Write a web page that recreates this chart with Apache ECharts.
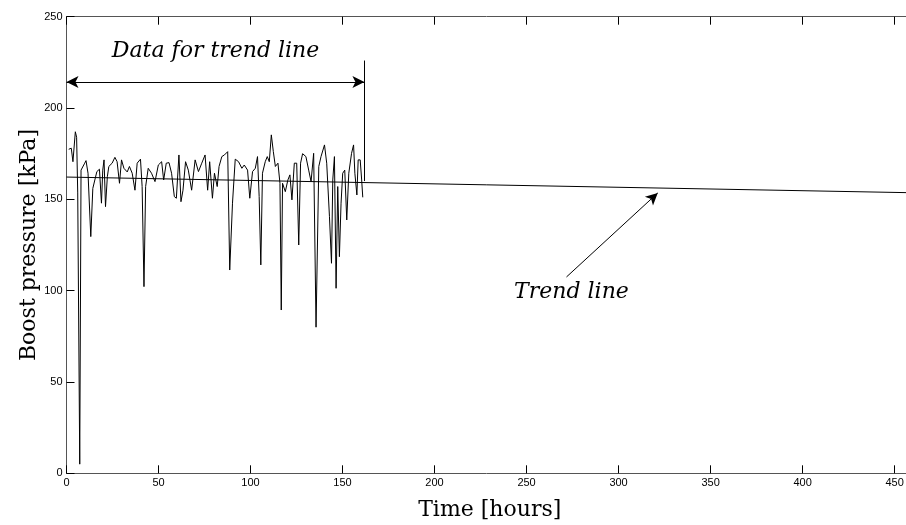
<!DOCTYPE html>
<html>
<head>
<meta charset="utf-8">
<script src="https://cdn.jsdelivr.net/npm/echarts@6/dist/echarts.min.js"></script>
<style>
  html, body { margin: 0; padding: 0; background: #fff; }
  #chart { width: 906px; height: 525px; }
</style>
</head>
<body>
<div id="chart"></div>
<script>
// measured boost pressure
const hours = [
  1.2, 2.6, 3.5, 4.8, 5.5, 6.1, 7.2, 7.9, 8.5, 9.9, 10.6, 11.7, 13.2, 14.3, 15.4, 16.5, 17.9,
  19.0, 19.7, 20.4, 21.2, 22.2, 23.0, 24.8, 26.3, 27.5, 28.8, 29.9, 31.2, 33.0, 34.2, 35.7,
  37.2, 38.4, 40.2, 41.1, 42.1, 43.0, 44.4, 46.2, 48.1, 49.9, 51.7, 52.8, 54.2, 55.7, 57.1,
  58.6, 59.7, 61.1, 62.2, 63.3, 64.7, 66.2, 68.0, 69.9, 71.7, 73.5, 75.3, 76.7, 77.8, 79.3,
  80.4, 81.9, 82.9, 84.4, 85.8, 87.6, 88.7, 90.2, 91.7, 93.5, 95.3, 96.6, 97.6, 98.4, 99.6,
  101.1, 102.6, 103.8, 104.7, 105.6, 106.5, 108.0, 109.1, 110.2, 111.3, 112.4, 113.5, 114.9,
  116.0, 116.7, 117.4, 118.9, 120.3, 121.4, 122.5, 123.8, 125.1, 126.2, 127.2, 128.3, 130.1,
  131.6, 132.9, 134.3, 135.6, 137.1, 138.3, 140.2, 141.4, 142.9, 144.0, 144.7, 145.6, 146.5,
  147.4, 148.3, 149.2, 150.1, 151.2, 152.3, 153.4, 154.9, 156.0, 156.7, 157.8, 158.5, 159.6,
  160.4, 161.0
];
const pressure = [
  177.4, 178, 170.6, 187, 184, 153.5, 5, 166, 167, 169.8, 171.2, 164.3, 129.6, 156, 160.6, 165.2, 166.5,
  147.9, 166, 171.6, 146, 162.4, 168, 169.8, 173, 170.6, 158.8, 171.6, 167, 165, 168, 164.3,
  155, 169.8, 172, 157, 102.2, 157, 167, 164.3, 159.7, 168.8, 170.6, 160.6, 169.8, 170.1, 164.3,
  151.5, 150.6, 174.3, 148.7, 155, 170.6, 166, 155, 171.6, 165.2, 169.8, 174.3, 155, 170.6, 150.6,
  164.3, 157, 168, 173.4, 174.3, 176.1, 111.3, 147.9, 172, 170.6, 167, 168.8, 168, 166, 150.6,
  165.2, 167, 173.4, 151.5, 114.1, 164.3, 170.6, 173.4, 170.6, 185.3, 176.1, 168, 169.8,
  158.8, 89.4, 158.8, 154.2, 160.6, 163.4, 149.7, 169.8, 169.8, 125, 169.8, 175, 173.4,
  166, 159.7, 175.2, 80, 168, 173.4, 179.8, 169.8, 140.5, 115, 160.6, 173.4, 101.3,
  157, 118.6, 147.9, 164.3, 166, 138.7, 164.3, 175.2, 179.8, 164.3, 152.4, 171.6, 171.6,
  160.6, 151.1
];

// fitted trend line end points
const trendHours = [0, 460];
const trendPressure = [162.2, 153.6];

// annotation geometry in data units
const trendWindowEnd = 161.9;
const spanArrowLevel = 214.3;
const windowMarkTop = 226;
const windowMarkBottom = 160;
const pointerFrom = [271.7, 107.5];
const pointerTo = [321.3, 153.5];
const windowLabel = { text: "Data for trend line", at: [81, 231] };
const trendLabel = { text: "Trend line", at: [274.4, 99.3] };

const xTicks = { min: 0, max: 460, interval: 50 };
const yTicks = { min: 0, max: 250, interval: 50 };

const ink = "#000";
const axisGray = "#555";
const tickFont = { color: "#000", fontSize: 11, fontFamily: "Liberation Sans" };
const serif = "DejaVu Serif";

const chart = echarts.init(document.getElementById("chart"), null, { renderer: "canvas" });

const measured = hours.map((h, i) => [h, pressure[i]]);
const trend = trendHours.map((h, i) => [h, trendPressure[i]]);

chart.setOption({
  animation: false,
  grid: { left: 66.5, right: -7, top: 16.7, bottom: 51.7, outerBoundsMode: "none", containLabel: false },
  xAxis: [
    {
      type: "value", min: xTicks.min, max: xTicks.max, interval: xTicks.interval,
      name: "Time [hours]", nameLocation: "middle", nameGap: 26, nameMoveOverlap: false,
      nameTextStyle: { fontFamily: serif, fontSize: 22, color: ink },
      axisLine: { lineStyle: { color: axisGray, width: 1 } },
      axisTick: { inside: true, length: 8, lineStyle: { color: ink } },
      axisLabel: Object.assign({ margin: 4, showMaxLabel: false }, tickFont),
      splitLine: { show: false },
    },
    {
      type: "value", position: "top", min: xTicks.min, max: xTicks.max, interval: xTicks.interval,
      axisLine: { show: true, lineStyle: { color: axisGray, width: 1 } },
      axisTick: { inside: true, length: 8, lineStyle: { color: ink } },
      axisLabel: { show: false },
      splitLine: { show: false },
    },
  ],
  yAxis: {
    type: "value", min: yTicks.min, max: yTicks.max, interval: yTicks.interval,
    name: "Boost pressure [kPa]", nameLocation: "middle", nameGap: 26, nameRotate: 90,
    nameMoveOverlap: false,
    nameTextStyle: { fontFamily: serif, fontSize: 22, color: ink },
    axisLine: { show: true, lineStyle: { color: axisGray, width: 1 } },
    axisTick: { show: true, inside: true, length: 8, lineStyle: { color: ink } },
    axisLabel: Object.assign({ margin: 4 }, tickFont),
    splitLine: { show: false },
  },
  series: [
    {
      name: "measured",
      type: "line",
      data: measured,
      showSymbol: false,
      lineStyle: { color: ink, width: 1 },
      z: 3,
    },
    {
      name: "trend",
      type: "line",
      data: trend,
      showSymbol: false,
      lineStyle: { color: ink, width: 1 },
      z: 4,
      markLine: {
        silent: true,
        symbolSize: [9, 12],
        lineStyle: { color: ink, width: 1, type: "solid" },
        label: { show: false },
        data: [
          [
            { coord: [0, spanArrowLevel], symbol: "arrow" },
            { coord: [trendWindowEnd, spanArrowLevel], symbol: "arrow" },
          ],
          [
            { coord: [trendWindowEnd, windowMarkTop], symbol: "none" },
            { coord: [trendWindowEnd, windowMarkBottom], symbol: "none" },
          ],
          [
            { coord: pointerFrom, symbol: "none" },
            { coord: pointerTo, symbol: "arrow" },
          ],
        ],
      },
    },
    {
      name: "labels",
      type: "scatter",
      symbolSize: 0,
      silent: true,
      itemStyle: { opacity: 1 },
      data: [windowLabel, trendLabel].map((l) => ({ value: l.at, name: l.text })),
      label: {
        show: true,
        position: "inside",
        formatter: (p) => p.name,
        fontFamily: serif,
        fontStyle: "italic",
        fontSize: 22,
        color: ink,
        textBorderWidth: 0,
        opacity: 1,
      },
      z: 5,
    },
  ],
});
</script>
</body>
</html>
